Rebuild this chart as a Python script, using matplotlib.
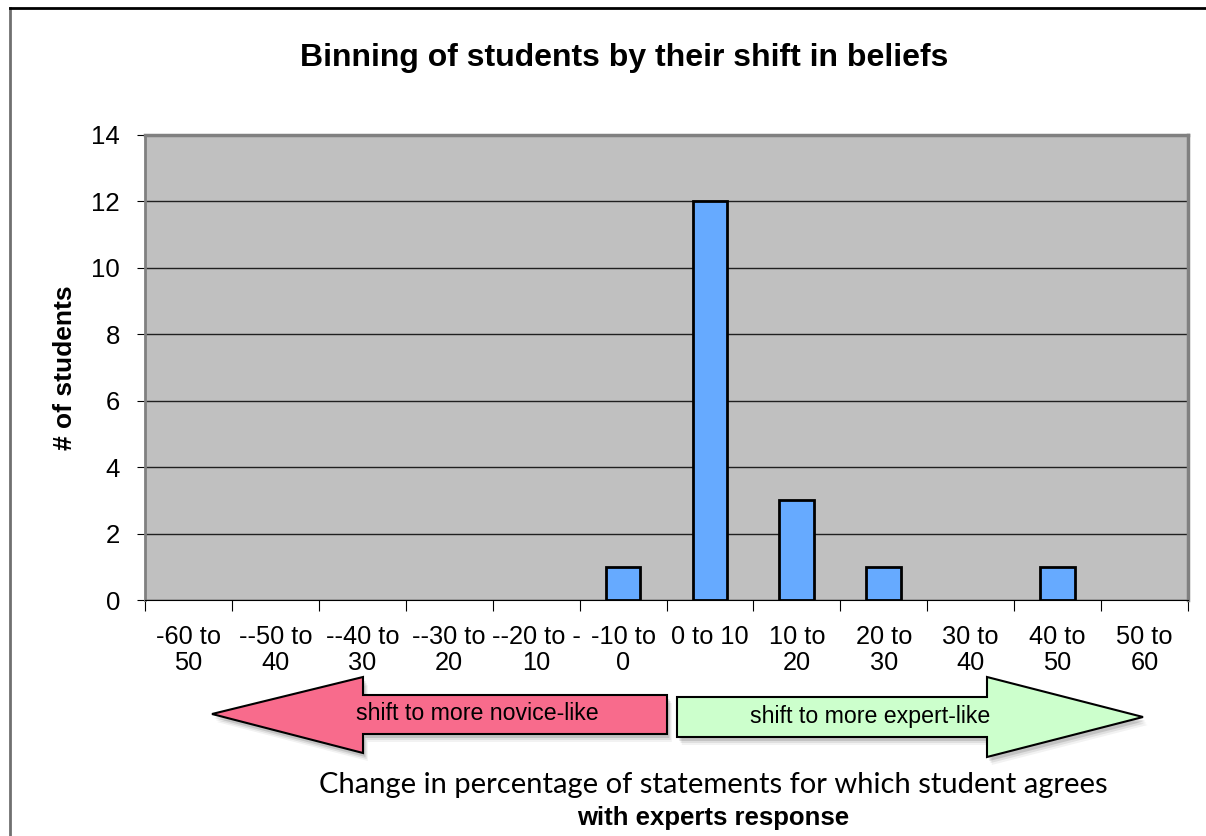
import matplotlib
matplotlib.use("Agg")
from matplotlib import pyplot as plt
from matplotlib.patches import Polygon
import numpy as np

# bins of shift in beliefs
categories = ["-60 to\n50", "--50 to\n40", "--40 to\n30", "--30 to\n20", "--20 to -\n10",
              "-10 to\n0", "0 to 10", "10 to\n20", "20 to\n30", "30 to\n40", "40 to\n50", "50 to\n60"]
students = [0, 0, 0, 0, 0, 1, 12, 3, 1, 0, 1, 0]
y_ticks = [0, 2, 4, 6, 8, 10, 12, 14]

plt.rcParams['font.family'] = ['Liberation Sans', 'DejaVu Sans']

W, H = 1206, 836
fig = plt.figure(figsize=(W / 100, H / 100), dpi=100)

# plot area
ax = fig.add_axes([145 / W, 1 - 600 / H, 1043 / W, 465 / H])
ax.set_facecolor("#C0C0C0")
x = np.arange(len(categories))
lws = [2 if v > 0 else 0 for v in students]
ax.bar(x, students, width=0.4, color="#66AAFF", edgecolor="black", linewidth=lws, zorder=3)

ax.set_xlim(-0.5, len(categories) - 0.5)
ax.set_ylim(0, 14)
ax.set_yticks(y_ticks)
ax.tick_params(axis="y", labelsize=18.5, length=6, direction="out", pad=12)
ax.yaxis.grid(True, color="#202020", linewidth=1)
ax.set_axisbelow(True)

# ticks on the bin boundaries, labels in the middle
ax.set_xticks(np.arange(-0.5, len(categories), 1))
ax.set_xticklabels([])
ax.set_xticks(x, minor=True)
ax.set_xticklabels(categories, minor=True, fontsize=18.3, linespacing=1.1, va="top")
ax.tick_params(axis="x", which="major", length=8, direction="out")
ax.tick_params(axis="x", which="minor", length=0, pad=18)

for s in ["top", "right"]:
    ax.spines[s].set_color("#808080")
    ax.spines[s].set_linewidth(2.5)
ax.spines["left"].set_color("#808080")
ax.spines["left"].set_linewidth(2)
ax.spines["bottom"].set_color("black")

ax.set_ylabel("# of students", fontsize=19, fontweight="bold", labelpad=10)

fig.text(624 / W, 1 - 58 / H, "Binning of students by their shift in beliefs",
         fontsize=23, fontweight="bold", ha="center", va="center")

# overlay in pixel coordinates for the arrows and frame
ov = fig.add_axes([0, 0, 1, 1], zorder=-1)
ov.set_xlim(0, W)
ov.set_ylim(H, 0)
ov.axis("off")
ov.patch.set_alpha(0)

ov.plot([10, 10], [8, H], color="#707070", lw=2)
ov.plot([10, W], [8, 8], color="black", lw=2)

ov2 = fig.add_axes([0, 0, 1, 1])
ov2.set_xlim(0, W)
ov2.set_ylim(H, 0)
ov2.axis("off")
ov2.patch.set_alpha(0)

red = [(212, 714), (363, 677), (363, 695), (667, 695), (667, 734), (363, 734), (363, 753)]
green = [(677, 697), (987, 697), (987, 677), (1143, 717), (987, 757), (987, 737), (677, 737)]

for pts in (red, green):
    for k, a in [(8, 0.05), (6, 0.08), (4, 0.12)]:
        sh = [(px + k * 0.6, py + k) for px, py in pts]
        ov2.add_patch(Polygon(sh, closed=True, facecolor="black", edgecolor="none", alpha=a))

ov2.add_patch(Polygon(red, closed=True, facecolor="#F86B8C", edgecolor="black", lw=1.5))
ov2.add_patch(Polygon(green, closed=True, facecolor="#CCFFCC", edgecolor="black", lw=1.5))
ov2.text(477, 714, "shift to more novice-like", fontsize=16.7, ha="center", va="center")
ov2.text(870, 717, "shift to more expert-like", fontsize=16.7, ha="center", va="center")

ov2.text(713, 785, "Change in percentage of statements for which student agrees",
         fontsize=21, family=["Lato", "DejaVu Sans"], ha="center", va="center")
ov2.text(713, 818, "with experts response", fontsize=18.5, fontweight="bold",
         ha="center", va="center")

plt.savefig("out.png", dpi=100)
